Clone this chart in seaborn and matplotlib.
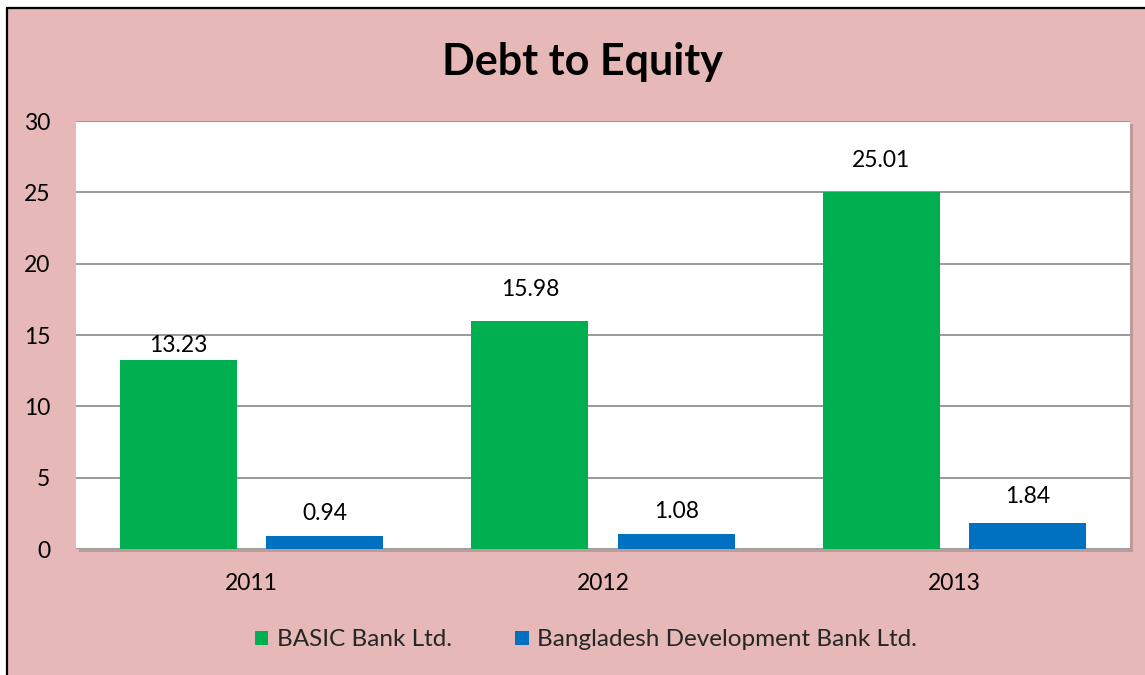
import matplotlib
matplotlib.use("Agg")
import matplotlib.pyplot as plt
import seaborn as sns
import pandas as pd
from matplotlib.patches import Rectangle
from matplotlib.lines import Line2D

years = ["2011", "2012", "2013"]
series_names = ["BASIC Bank Ltd.", "Bangladesh Development Bank Ltd."]
basic_values = [13.23, 15.98, 25.01]
bdbl_values = [0.94, 1.08, 1.84]
y_ticks = [0, 5, 10, 15, 20, 25, 30]
title = "Debt to Equity"

colors = ["#00B050", "#0070C0"]
bg = "#E6B8B7"

df = pd.DataFrame({
    "Year": years * 2,
    "Bank": [series_names[0]] * 3 + [series_names[1]] * 3,
    "Value": basic_values + bdbl_values,
})

sns.set_theme(style="white")
plt.rcParams["font.family"] = ["Lato", "DejaVu Sans"]

W, H = 1145, 675
fig = plt.figure(figsize=(W / 100, H / 100), dpi=100, facecolor="white")

# pink chart area with black border on left/top
fig.patches.append(Rectangle((7 / W, 0), 1 - 7 / W, 1 - 8 / H, transform=fig.transFigure,
                             facecolor=bg, edgecolor="none", zorder=-10))
fig.lines.append(Line2D([7 / W, 7 / W], [0, 1 - 8 / H], transform=fig.transFigure,
                        color="black", linewidth=1.6))
fig.lines.append(Line2D([7 / W, 1], [1 - 8 / H, 1 - 8 / H], transform=fig.transFigure,
                        color="black", linewidth=1.6))

ax_l, ax_r, ax_t, ax_b = 76, 1130, 121, 549
pos = [ax_l / W, 1 - ax_b / H, (ax_r - ax_l) / W, (ax_b - ax_t) / H]
# shadow
fig.patches.append(Rectangle((pos[0] + 3 / W, pos[1] - 3 / H), pos[2], pos[3], transform=fig.transFigure,
                             facecolor="#BE9A99", edgecolor="none", zorder=-5))
ax = fig.add_axes(pos)
ax.set_facecolor("white")

sns.barplot(data=df, x="Year", y="Value", hue="Bank", order=years, hue_order=series_names,
            palette=colors, width=0.833, gap=0.2, ax=ax, saturation=1, legend=True,
            errorbar=None, linewidth=0, edgecolor="none")

ax.set_ylim(0, 30)
ax.set_xlim(-0.5, 2.5)
ax.set_yticks(y_ticks)
ax.set_yticklabels([str(t) for t in y_ticks], fontsize=16.5)
ax.tick_params(axis="y", length=0, pad=18.5, labelcolor="black")
ax.tick_params(axis="x", length=0, pad=17, labelsize=16.5, labelcolor="black")
ax.set_xlabel("")
ax.set_ylabel("")
for s in ax.spines.values():
    s.set_visible(False)
ax.yaxis.grid(True, color="#888888", linewidth=1.2)
ax.set_axisbelow(True)

offsets = [[3, 15, 15], [8, 8, 11]]
for i, cont in enumerate(ax.containers):
    for j, bar in enumerate(cont):
        val = [basic_values, bdbl_values][i][j]
        ax.annotate(f"{val:.2f}", (bar.get_x() + bar.get_width() / 2, bar.get_height()),
                    xytext=(0, offsets[i][j]), textcoords="offset points",
                    ha="center", va="bottom", fontsize=16.5, color="black")

leg = ax.legend(loc="center", bbox_to_anchor=(586 / W, 1 - 640 / H), bbox_transform=fig.transFigure,
                ncol=2, frameon=False, fontsize=17.5, handlelength=0.55, handleheight=0.55,
                handletextpad=0.35, columnspacing=2.6)

fig.text(582 / W, 1 - 62 / H, title, ha="center", va="center", fontsize=31, fontweight="bold", color="black")

fig.savefig("out.png", dpi=100, facecolor=fig.get_facecolor())
